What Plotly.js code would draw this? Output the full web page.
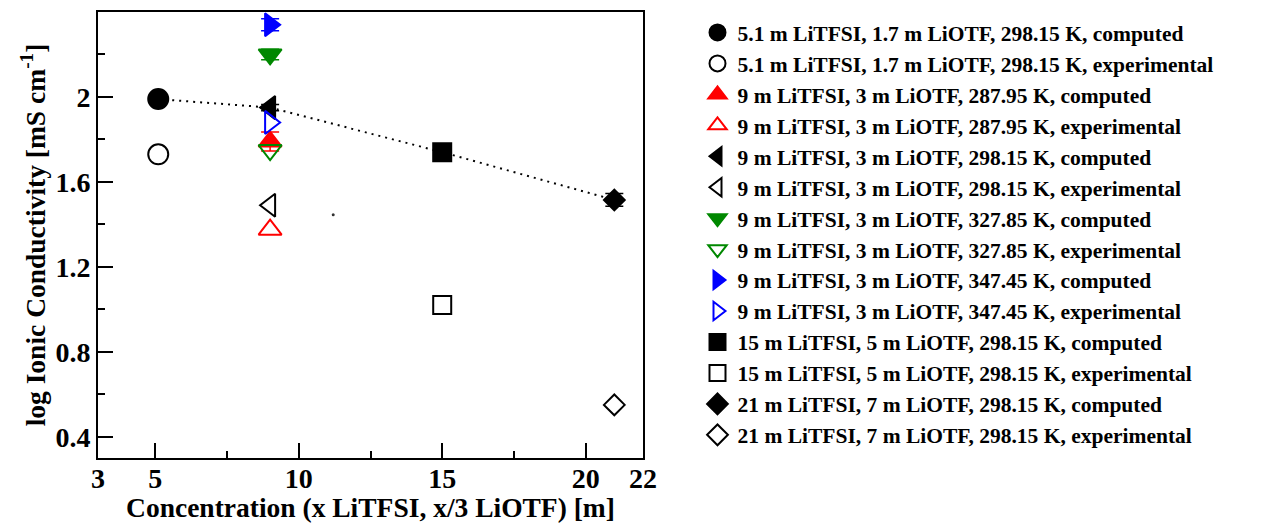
<!DOCTYPE html>
<html>
<head>
<meta charset="utf-8">
<script src="https://cdn.plot.ly/plotly-3.0.1.min.js"></script>
<style>
  html, body { margin: 0; padding: 0; background: #fff; }
  #chart { width: 1270px; height: 523px; }
</style>
</head>
<body>
<div id="chart"></div>
<script>
// ---- data ----
const seriesNames = [
  "5.1 m LiTFSI, 1.7 m LiOTF, 298.15 K, computed",
  "5.1 m LiTFSI, 1.7 m LiOTF, 298.15 K, experimental",
  "9 m LiTFSI, 3 m LiOTF, 287.95 K, computed",
  "9 m LiTFSI, 3 m LiOTF, 287.95 K, experimental",
  "9 m LiTFSI, 3 m LiOTF, 298.15 K, computed",
  "9 m LiTFSI, 3 m LiOTF, 298.15 K, experimental",
  "9 m LiTFSI, 3 m LiOTF, 327.85 K, computed",
  "9 m LiTFSI, 3 m LiOTF, 327.85 K, experimental",
  "9 m LiTFSI, 3 m LiOTF, 347.45 K, computed",
  "9 m LiTFSI, 3 m LiOTF, 347.45 K, experimental",
  "15 m LiTFSI, 5 m LiOTF, 298.15 K, computed",
  "15 m LiTFSI, 5 m LiOTF, 298.15 K, experimental",
  "21 m LiTFSI, 7 m LiOTF, 298.15 K, computed",
  "21 m LiTFSI, 7 m LiOTF, 298.15 K, experimental"
];
const seriesX   = [5.1, 5.1, 9, 9, 9, 9, 9, 9, 9, 9, 15, 15, 21, 21];
const seriesY   = [1.99, 1.73, 1.79, 1.375, 1.95, 1.49, 2.20, 1.75, 2.34, 1.88, 1.74, 1.02, 1.515, 0.55];
const seriesErr = [0.01, 0, 0.045, 0, 0.015, 0, 0.025, 0, 0.028, 0, 0.04, 0, 0.03, 0];

// computed 298.15 K series joined by the dotted guide line (indices into the arrays above)
const guideIdx = [0, 4, 10, 12];

// a stray dot present in the reference
const strayX = [11.2];
const strayY = [1.445];

const xTickVals = [3, 5, 10, 15, 20, 22];
const xTickText = ["3", "5", "10", "15", "20", "22"];
const xMinorVals = [7.5, 12.5, 17.5];
const yTickVals = [0.4, 0.8, 1.2, 1.6, 2.0];
const yTickText = ["0.4", "0.8", "1.2", "1.6", "2"];
const yMinorVals = [0.6, 1.0, 1.4, 1.8, 2.2];

// ---- styles ----
const styles = [
  {symbol: "circle", color: "#000000"},
  {symbol: "circle-open", color: "#000000"},
  {symbol: "triangle-up", color: "#ff0000"},
  {symbol: "triangle-up-open", color: "#ff0000"},
  {symbol: "triangle-left", color: "#000000"},
  {symbol: "triangle-left-open", color: "#000000"},
  {symbol: "triangle-down", color: "#008800"},
  {symbol: "triangle-down-open", color: "#008800"},
  {symbol: "triangle-right", color: "#0000ff"},
  {symbol: "triangle-right-open", color: "#0000ff"},
  {symbol: "square", color: "#000000"},
  {symbol: "square-open", color: "#000000"},
  {symbol: "diamond", color: "#000000"},
  {symbol: "diamond-open", color: "#000000"}
];
const sizes = [20, 20, 20, 20, 20, 20, 20, 20, 20, 20, 18, 18, 16, 16];

const FONT = "Liberation Serif, Times New Roman, serif";

const traces = [];
traces.push({
  x: guideIdx.map(i => seriesX[i]),
  y: guideIdx.map(i => seriesY[i]),
  mode: "lines",
  line: {color: "#000000", width: 2, dash: "2px,5px"},
  showlegend: false,
  hoverinfo: "skip"
});
traces.push({
  x: strayX, y: strayY, mode: "markers",
  marker: {size: 3, color: "#333333"},
  showlegend: false, hoverinfo: "skip"
});
seriesNames.forEach((name, i) => {
  const t = {
    x: [seriesX[i]],
    y: [seriesY[i]],
    name: name,
    legendgroup: "g" + i,
    mode: "markers",
    marker: {
      symbol: styles[i].symbol,
      color: styles[i].color,
      size: sizes[i],
      line: {color: styles[i].color, width: 2}
    }
  };
  if (seriesErr[i] > 0) {
    t.error_y = {type: "data", array: [seriesErr[i]], visible: true,
                 color: styles[i].color, thickness: 1.5, width: 9};
  }
  traces.push(t);
});

const layout = {
  width: 1270, height: 523,
  paper_bgcolor: "#ffffff", plot_bgcolor: "#ffffff",
  margin: {l: 98, r: 627, t: 12, b: 65, pad: 0},
  font: {family: FONT, color: "#000000", weight: "bold"},
  showlegend: true,
  legend: {
    x: 1.1, xanchor: "left", y: 1.0, yanchor: "top",
    font: {family: FONT, size: 21.5, color: "#000000", weight: "bold"},
    tracegroupgap: 0, bgcolor: "rgba(0,0,0,0)", borderwidth: 0,
    itemwidth: 30
  },
  xaxis: {
    range: [3, 22], tickmode: "array", tickvals: xTickVals, ticktext: xTickText,
    ticks: "inside", ticklen: 15, tickwidth: 2, tickcolor: "#000000",
    showline: true, linewidth: 2, linecolor: "#000000", mirror: true,
    showgrid: false, zeroline: false, ticklabelstandoff: -6,
    tickfont: {family: FONT, size: 28, color: "#000000", weight: "bold"},
    minor: {tickmode: "array", tickvals: xMinorVals, ticks: "inside", ticklen: 7,
            tickwidth: 2, tickcolor: "#000000", showgrid: false},
    title: {text: "Concentration (x LiTFSI, x/3 LiOTF) [m]",
            font: {family: FONT, size: 27.5, color: "#000000", weight: "bold"}, standoff: 0}
  },
  yaxis: {
    range: [0.3, 2.4], tickmode: "array", tickvals: yTickVals, ticktext: yTickText,
    ticks: "inside", ticklen: 15, tickwidth: 2, tickcolor: "#000000",
    showline: true, linewidth: 2, linecolor: "#000000", mirror: true,
    showgrid: false, zeroline: false,
    tickfont: {family: FONT, size: 28, color: "#000000", weight: "bold"},
    minor: {tickmode: "array", tickvals: yMinorVals, ticks: "inside", ticklen: 7,
            tickwidth: 2, tickcolor: "#000000", showgrid: false},
    title: {text: "log Ionic Conductivity [mS cm<sup>-1</sup>]",
            font: {family: FONT, size: 27.5, color: "#000000", weight: "bold"}, standoff: 2}
  }
};

Plotly.newPlot("chart", traces, layout, {displayModeBar: false, staticPlot: true});
</script>
</body>
</html>
